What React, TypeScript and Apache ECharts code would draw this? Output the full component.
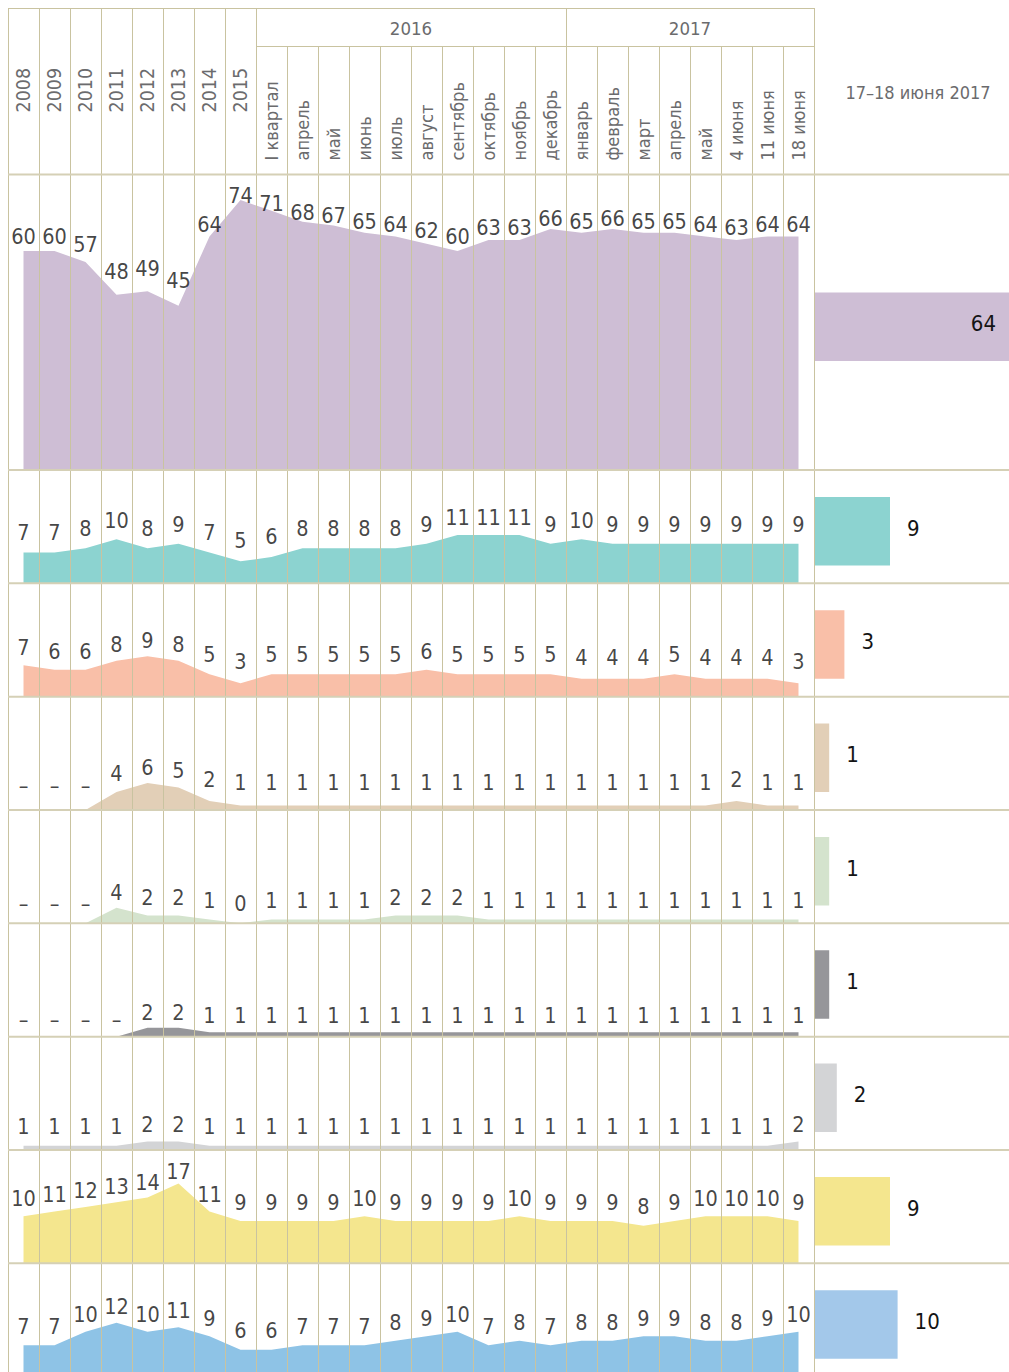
import React, { useEffect, useRef } from 'react';
import * as echarts from 'echarts';

// ---------- data ----------
const columnLabels = [
  '2008', '2009', '2010', '2011', '2012', '2013', '2014', '2015',
  'I квартал', 'апрель', 'май', 'июнь', 'июль', 'август', 'сентябрь', 'октябрь', 'ноябрь', 'декабрь',
  'январь', 'февраль', 'март', 'апрель', 'май', '4 июня', '11 июня', '18 июня',
];
const yearColumnCount = 8;
const groupLabels = ['2016', '2017'];
const groupFirstColumn = [8, 18];
const groupLastColumn = [17, 25];
const snapshotTitle = '17–18 июня 2017';

const row1 = [60, 60, 57, 48, 49, 45, 64, 74, 71, 68, 67, 65, 64, 62, 60, 63, 63, 66, 65, 66, 65, 65, 64, 63, 64, 64];
const row2 = [7, 7, 8, 10, 8, 9, 7, 5, 6, 8, 8, 8, 8, 9, 11, 11, 11, 9, 10, 9, 9, 9, 9, 9, 9, 9];
const row3 = [7, 6, 6, 8, 9, 8, 5, 3, 5, 5, 5, 5, 5, 6, 5, 5, 5, 5, 4, 4, 4, 5, 4, 4, 4, 3];
const row4 = [null, null, null, 4, 6, 5, 2, 1, 1, 1, 1, 1, 1, 1, 1, 1, 1, 1, 1, 1, 1, 1, 1, 2, 1, 1];
const row5 = [null, null, null, 4, 2, 2, 1, 0, 1, 1, 1, 1, 2, 2, 2, 1, 1, 1, 1, 1, 1, 1, 1, 1, 1, 1];
const row6 = [null, null, null, null, 2, 2, 1, 1, 1, 1, 1, 1, 1, 1, 1, 1, 1, 1, 1, 1, 1, 1, 1, 1, 1, 1];
const row7 = [1, 1, 1, 1, 2, 2, 1, 1, 1, 1, 1, 1, 1, 1, 1, 1, 1, 1, 1, 1, 1, 1, 1, 1, 1, 2];
const row8 = [10, 11, 12, 13, 14, 17, 11, 9, 9, 9, 9, 10, 9, 9, 9, 9, 10, 9, 9, 9, 8, 9, 10, 10, 10, 9];
const row9 = [7, 7, 10, 12, 10, 11, 9, 6, 6, 7, 7, 7, 8, 9, 10, 7, 8, 7, 8, 8, 9, 9, 8, 8, 9, 10];
const rows: (number | null)[][] = [row1, row2, row3, row4, row5, row6, row7, row8, row9];
const latestValues = [64, 9, 3, 1, 1, 1, 2, 9, 10];

// ---------- styles / layout ----------
const areaColors = ['#cebed5', '#8cd3d0', '#f9bfa8', '#e2cfb7', '#d4e3cd', '#96969a', '#d3d4d6', '#f4e68e', '#8ec3e6'];
const barColors = ['#cebed5', '#8cd3d0', '#f9bfa8', '#e2cfb7', '#d4e3cd', '#96969a', '#d3d4d6', '#f4e68e', '#a3c8ea'];
const FONT = "'Liberation Sans Narrow', 'Arial Narrow', 'DejaVu Sans Condensed', 'Roboto', sans-serif";
const VALUE_COLOR = '#141414';
const HEADER_COLOR = '#6b6b6d';
const LINE_V = '#c9c3a0';
const LINE_H = '#d5d0b6';

const W = 1009;
const H = 1372;
const LEFT = 8;
const COL_W = 31;
const N = columnLabels.length;
const PLOT_W = COL_W * N;
const SPLIT_X = LEFT + PLOT_W;
const RIGHT_W = W - SPLIT_X;
const HEADER_TOP = 8;
const HEADER_MID = 46;
const HEADER_BOTTOM = 174.5;
const ROW1_H = 295.5;
const ROW_H = 113.33;
const rowHeights = rows.map((_, i) => (i === 0 ? ROW1_H : ROW_H));
const rowTops = rows.map((_, i) => (i === 0 ? HEADER_BOTTOM : HEADER_BOTTOM + ROW1_H + (i - 1) * ROW_H));
const areaPxPerUnit = [3.65, 4.4, 4.5, 4.5, 3.9, 4.5, 4.2, 4.7, 4.5];
const labelYAtZero = [412, 559.2, 671.4, 785, 903, 1019, 1128, 1238, 1355];
const labelPxPerUnit = [2.93, 3.83, 3.4, 2.9, 2.6, 3.3, 2.0, 3.94, 4.08];
const BAR_PX_PER_UNIT = 7.6;
const BAR_ORIGIN = -1;
const BAR_SHIFT = 9;
const BAR_WIDTH = 68.5;
const VALUE_FONT = 21.5;
const YEAR_FONT = 19.5;
const MONTH_FONT = 18;

function buildOption() {
  const grid: any[] = [];
  const xAxis: any[] = [];
  const yAxis: any[] = [];
  const series: any[] = [];
  const noLine = { axisLine: { show: false }, axisTick: { show: false } };

  // header: years (full height)
  grid.push({ left: LEFT, top: HEADER_TOP, width: PLOT_W, height: HEADER_BOTTOM - HEADER_TOP, containLabel: false, outerBoundsMode: 'none' });
  xAxis.push({
    type: 'category', gridIndex: 0, data: columnLabels, boundaryGap: true, z: 3, ...noLine,
    splitLine: { show: true, interval: (i: number) => i <= yearColumnCount || i === groupFirstColumn[1], lineStyle: { color: LINE_V, width: 1 } },
    axisLabel: {
      show: true, inside: true, rotate: 90, margin: 62, interval: 0, hideOverlap: false,
      formatter: (v: string, i: number) => (i < yearColumnCount ? v : ''),
      color: HEADER_COLOR, fontSize: YEAR_FONT, fontFamily: FONT,
    },
  });
  yAxis.push({ type: 'value', gridIndex: 0, show: false });

  // header: months
  grid.push({ left: LEFT, top: HEADER_MID, width: PLOT_W, height: HEADER_BOTTOM - HEADER_MID, containLabel: false, outerBoundsMode: 'none' });
  xAxis.push({
    type: 'category', gridIndex: 1, data: columnLabels, boundaryGap: true, z: 3, ...noLine,
    splitLine: { show: true, interval: (i: number) => i > yearColumnCount && i !== groupFirstColumn[1], lineStyle: { color: LINE_V, width: 1 } },
    axisLabel: {
      show: true, inside: true, rotate: 90, margin: 14, interval: 0, hideOverlap: false,
      formatter: (v: string, i: number) => (i >= yearColumnCount ? v : ''),
      color: HEADER_COLOR, fontSize: MONTH_FONT, fontFamily: FONT,
    },
  });
  yAxis.push({ type: 'value', gridIndex: 1, show: false });

  rows.forEach((vals, r) => {
    const top = rowTops[r];
    const h = rowHeights[r];
    const gL = grid.length;
    grid.push({ left: LEFT, top, width: PLOT_W, height: h, containLabel: false, outerBoundsMode: 'none' });
    const gR = grid.length;
    grid.push({ left: SPLIT_X, top: top + BAR_SHIFT, width: RIGHT_W, height: h - BAR_SHIFT, containLabel: false, outerBoundsMode: 'none' });

    const xL = xAxis.length;
    xAxis.push({
      type: 'category', gridIndex: gL, data: columnLabels, boundaryGap: true, z: 3, ...noLine,
      axisLabel: { show: false },
      splitLine: { show: true, interval: 0, lineStyle: { color: LINE_V, width: 1 } },
    });
    const xR = xAxis.length;
    xAxis.push({
      type: 'value', gridIndex: gR, show: false, min: BAR_ORIGIN, max: BAR_ORIGIN + RIGHT_W / BAR_PX_PER_UNIT,
      startValue: BAR_ORIGIN, splitLine: { show: false },
    });

    const yArea = yAxis.length;
    yAxis.push({ type: 'value', gridIndex: gL, show: false, min: 0, max: h / areaPxPerUnit[r], splitLine: { show: false } });
    const yLab = yAxis.length;
    const lMax = (labelYAtZero[r] - top) / labelPxPerUnit[r];
    yAxis.push({ type: 'value', gridIndex: gL, show: false, min: lMax - h / labelPxPerUnit[r], max: lMax, splitLine: { show: false } });
    const yR = yAxis.length;
    yAxis.push({ type: 'category', gridIndex: gR, show: false, data: ['latest'] });

    const plotted = vals.map((v) => (v == null ? 0 : v));
    series.push({
      type: 'line', xAxisIndex: xL, yAxisIndex: yArea, data: plotted, symbol: 'none', silent: true,
      lineStyle: { width: 0 }, areaStyle: { color: areaColors[r], opacity: 1 }, color: areaColors[r], z: 2,
    });
    series.push({
      type: 'scatter', xAxisIndex: xL, yAxisIndex: yLab, data: plotted, symbol: 'circle', symbolSize: 1, silent: true,
      itemStyle: { color: 'rgba(0,0,0,0)' }, z: 10,
      label: {
        show: true, position: 'inside', color: VALUE_COLOR, fontSize: VALUE_FONT, fontFamily: FONT,
        formatter: (p: any) => (vals[p.dataIndex] == null ? '–' : String(vals[p.dataIndex])),
      },
    });
    series.push({
      type: 'bar', xAxisIndex: xR, yAxisIndex: yR, data: [latestValues[r]], barWidth: BAR_WIDTH, silent: true,
      itemStyle: { color: barColors[r] }, clip: true, z: 2,
      label: {
        show: true, position: r === 0 ? 'insideRight' : 'right', distance: r === 0 ? 13 : 17, offset: [0, -3],
        color: VALUE_COLOR, fontSize: VALUE_FONT + 0.5, fontFamily: FONT,
      },
    });
  });

  const graphic: any[] = [];
  graphic.push({ type: 'line', silent: true, shape: { x1: LEFT, y1: HEADER_TOP + 0.5, x2: SPLIT_X + 1, y2: HEADER_TOP + 0.5 }, style: { stroke: LINE_V, lineWidth: 1 } });
  graphic.push({ type: 'line', silent: true, shape: { x1: LEFT + groupFirstColumn[0] * COL_W, y1: HEADER_MID + 0.5, x2: SPLIT_X + 1, y2: HEADER_MID + 0.5 }, style: { stroke: LINE_V, lineWidth: 1 } });
  rowTops.forEach((t) => {
    graphic.push({ type: 'line', silent: true, z: 5, shape: { x1: LEFT, y1: t, x2: W, y2: t }, style: { stroke: LINE_H, lineWidth: 2 } });
  });
  groupLabels.forEach((g, i) => {
    graphic.push({
      type: 'text', silent: true,
      x: LEFT + ((groupFirstColumn[i] + groupLastColumn[i] + 1) / 2) * COL_W, y: (HEADER_TOP + HEADER_MID) / 2 + 1,
      style: { text: g, fill: HEADER_COLOR, fontSize: 18.5, fontFamily: FONT, align: 'center', verticalAlign: 'middle' },
    });
  });
  graphic.push({
    type: 'text', silent: true, x: SPLIT_X + 104, y: 92,
    style: { text: snapshotTitle, fill: HEADER_COLOR, fontSize: 18, fontFamily: FONT, align: 'center', verticalAlign: 'middle' },
  });

  return { animation: false, backgroundColor: '#ffffff', grid, xAxis, yAxis, series, graphic };
}

export default function App() {
  const ref = useRef<HTMLDivElement>(null);
  useEffect(() => {
    if (!ref.current) return;
    const chart = echarts.init(ref.current, null, { renderer: 'svg' });
    chart.setOption(buildOption() as any);
    return () => chart.dispose();
  }, []);
  return <div ref={ref} style={{ position: 'absolute', left: 0, top: 0, width: W, height: H }} />;
}
